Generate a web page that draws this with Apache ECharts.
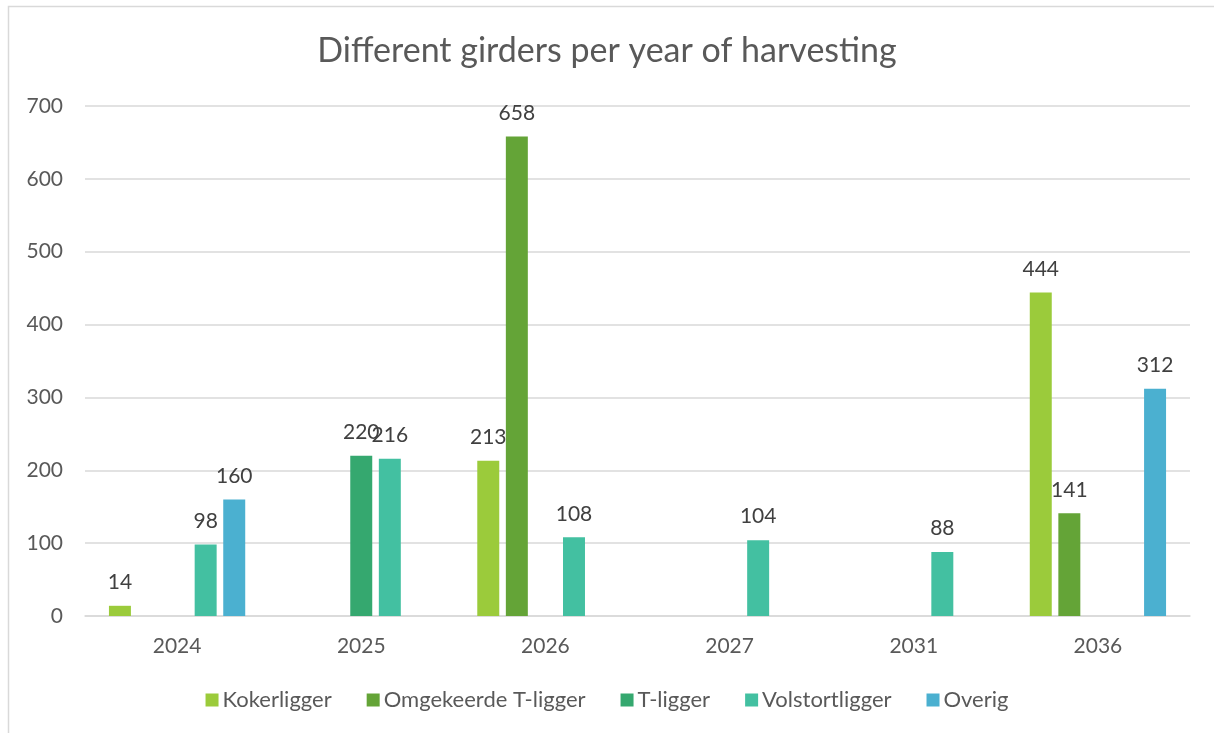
<!DOCTYPE html>
<html>
<head>
<meta charset="utf-8">
<script src="https://cdn.jsdelivr.net/npm/echarts@6/dist/echarts.min.js"></script>
<style>
  html, body { margin: 0; padding: 0; background: #fff; }
  #chart { width: 1214px; height: 733px; }
</style>
</head>
<body>
<div id="chart"></div>
<script>
// Harvest years
const years = ['2024', '2025', '2026', '2027', '2031', '2036'];

// Girder counts per type (null = none that year)
const kokerligger       = [14, null, 213, null, null, 444];
const omgekeerdeTligger = [null, null, 658, null, null, 141];
const tLigger           = [null, 220, null, null, null, null];
const volstortligger    = [98, 216, 108, 104, 88, null];
const overig            = [160, null, null, null, null, 312];

const yTicks = { min: 0, max: 700, interval: 100 };

const seriesDefs = [
  { name: 'Kokerligger', data: kokerligger, color: '#9BCB3B' },
  { name: 'Omgekeerde T-ligger', data: omgekeerdeTligger, color: '#64A437' },
  { name: 'T-ligger', data: tLigger, color: '#35A86F' },
  { name: 'Volstortligger', data: volstortligger, color: '#43C0A1' },
  { name: 'Overig', data: overig, color: '#4BB0D0' }
];

const font = 'Lato, "Open Sans", sans-serif';
const chart = echarts.init(document.getElementById('chart'), null, { renderer: 'canvas' });

chart.setOption({
  backgroundColor: '#ffffff',
  animation: false,
  textStyle: { fontFamily: font },
  graphic: [{
    type: 'rect',
    shape: { x: 8.5, y: 6.5, width: 1400, height: 900 },
    style: { fill: 'none', stroke: '#D9D9D9', lineWidth: 1.5 },
    silent: true
  }],
  title: {
    text: 'Different girders per year of harvesting',
    left: 'center',
    top: 29,
    textStyle: { fontFamily: font, fontSize: 34, fontWeight: 'normal', color: '#595959' }
  },
  legend: {
    bottom: 17,
    left: 'center',
    itemWidth: 13,
    itemHeight: 13,
    itemGap: 35,
    icon: 'rect',
    textStyle: { fontFamily: font, fontSize: 22, color: '#595959', padding: [0, 0, 0, -1] },
    data: seriesDefs.map(s => s.name)
  },
  grid: { left: 85, right: 24, top: 106, bottom: 117, containLabel: false },
  xAxis: {
    type: 'category',
    data: years,
    axisLine: { show: true, lineStyle: { color: '#D9D9D9', width: 1.5 } },
    axisTick: { show: false },
    axisLabel: { color: '#595959', fontSize: 21, fontFamily: font, margin: 20 }
  },
  yAxis: {
    type: 'value',
    min: yTicks.min,
    max: yTicks.max,
    interval: yTicks.interval,
    axisLine: { show: false },
    axisTick: { show: false },
    splitLine: { lineStyle: { color: '#D9D9D9', width: 1.5 } },
    axisLabel: { color: '#595959', fontSize: 21, fontFamily: font, margin: 22 }
  },
  series: seriesDefs.map(s => ({
    name: s.name,
    type: 'bar',
    data: s.data,
    barGap: '30%',
    barCategoryGap: '26%',
    itemStyle: { color: s.color },
    label: {
      show: true,
      position: 'top',
      distance: 13,
      color: '#404040',
      fontSize: 21,
      fontFamily: font
    }
  }))
});
</script>
</body>
</html>
